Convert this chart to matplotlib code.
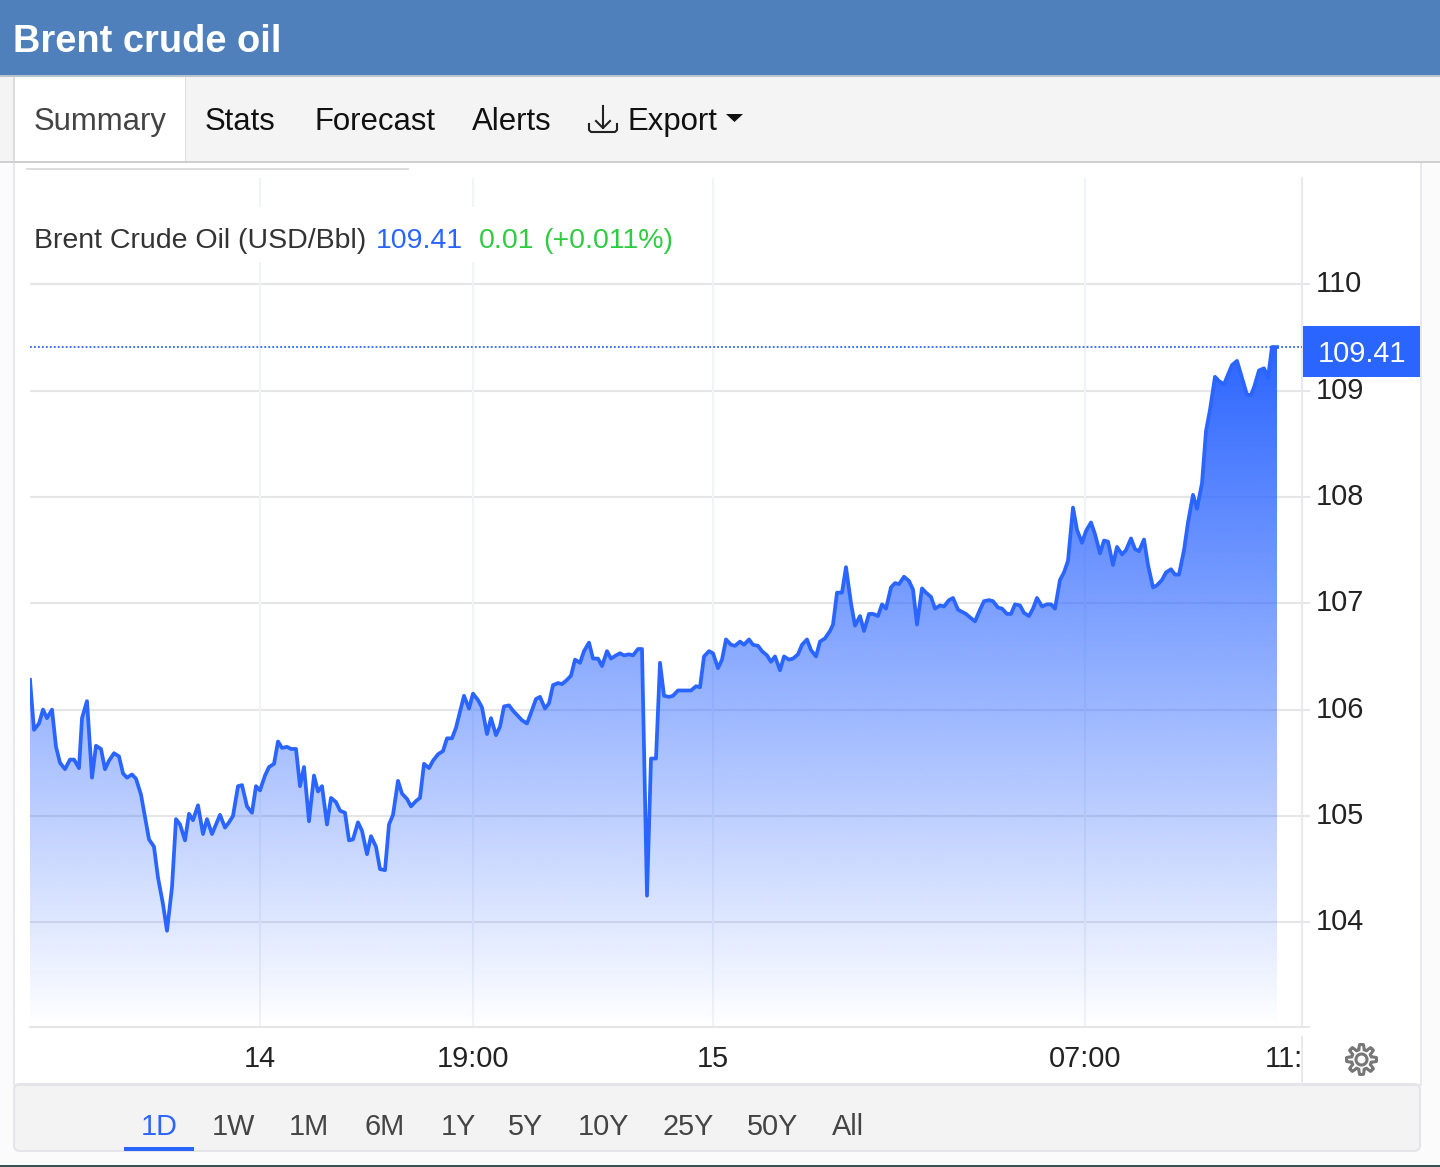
import numpy as np
import matplotlib
matplotlib.use('Agg')
import matplotlib.pyplot as plt
from matplotlib.patches import Rectangle, Polygon, Circle, FancyBboxPatch
from matplotlib.transforms import Bbox, ScaledTranslation

plt.rcParams['font.family'] = ['Liberation Sans', 'DejaVu Sans']

# position along the ordinal time axis (not evenly spaced, sessions are squeezed)
slots = [0, 4, 9, 13, 17, 22, 26, 30, 35, 40, 44, 49, 52, 57, 62, 66, 71, 75, 79, 84, 89, 93, 97,
         102, 106, 111, 115, 119, 124, 128, 133, 137, 142, 146, 150, 155, 159, 163, 168, 173, 177,
         182, 186, 190, 195, 199, 203, 208, 212, 217, 222, 226, 230, 235, 239, 244, 248, 252, 257,
         261, 266, 270, 274, 279, 284, 288, 292, 297, 301, 306, 310, 315, 319, 323, 328, 332, 337,
         341, 346, 350, 355, 359, 363, 368, 372, 377, 381, 386, 390, 394, 399, 403,
         408, 413, 417, 422, 426, 430, 434, 439, 443, 448, 452, 457, 461, 466, 470, 474, 479, 483,
         488, 492, 497, 501, 506, 510, 515, 519, 523, 528, 532, 537, 541, 545, 550, 554, 559, 563,
         568, 572, 577, 581, 586, 590, 594, 599, 603, 608, 612, 617, 621, 626, 630, 634, 639, 643,
         648, 652, 657, 661, 666, 670, 674, 679, 683, 688, 692, 696, 701, 705, 710, 714, 719, 723,
         728, 732, 737, 741, 745, 750, 754, 759, 763, 768, 772, 777, 781, 786, 790, 795,
         800, 803, 807, 812, 816, 821, 825, 830, 834, 839, 843, 848, 852, 856, 861, 865, 869, 874,
         879, 883, 887, 892, 896, 901, 905, 910, 914, 919, 923, 928, 932, 936, 941, 945, 950, 954,
         959, 963, 968, 972, 977, 981, 985, 990, 994, 999, 1003, 1007, 1012, 1017, 1021, 1025, 1030,
         1034, 1038, 1043, 1047, 1052, 1056, 1061, 1065, 1070, 1074, 1078, 1083, 1087, 1092, 1096,
         1101, 1105, 1109, 1114, 1118, 1123, 1127, 1132, 1136, 1141, 1145, 1149, 1154, 1158, 1163,
         1167, 1172, 1176, 1180, 1185, 1189, 1194, 1198, 1202, 1207, 1212, 1217, 1221, 1224, 1229,
         1234, 1238, 1242, 1247]

prices = [106.28, 105.81, 105.87, 106.00, 105.92, 106.00, 105.65, 105.50, 105.44, 105.53, 105.53,
          105.45, 105.92, 106.08, 105.36, 105.66, 105.63, 105.44, 105.52, 105.59, 105.56, 105.40,
          105.36, 105.39, 105.35, 105.20, 104.99, 104.78, 104.71, 104.42, 104.17, 103.92, 104.33,
          104.97, 104.92, 104.77, 105.02, 104.96, 105.10, 104.83, 104.97, 104.83, 104.92, 105.01,
          104.89, 104.94, 105.00, 105.28, 105.29, 105.09, 105.03, 105.28, 105.24, 105.38, 105.46,
          105.49, 105.70, 105.64, 105.65, 105.63, 105.63, 105.28, 105.46, 104.95, 105.38, 105.23,
          105.28, 104.92, 105.17, 105.13, 105.05, 105.03, 104.77, 104.78, 104.94, 104.86, 104.64,
          104.81, 104.71, 104.50, 104.49, 104.92, 105.01, 105.33, 105.21, 105.16, 105.09, 105.14,
          105.17, 105.49, 105.45, 105.52,
          105.58, 105.61, 105.73, 105.73, 105.83, 105.98, 106.13, 106.01, 106.15, 106.09, 106.02,
          105.77, 105.92, 105.76, 105.84, 106.03, 106.04, 105.99, 105.94, 105.90, 105.87, 105.97,
          106.10, 106.12, 106.01, 106.06, 106.23, 106.25, 106.24, 106.28, 106.32, 106.47, 106.44,
          106.55, 106.63, 106.48, 106.48, 106.41, 106.55, 106.48, 106.51, 106.53, 106.51, 106.52,
          106.51, 106.57, 106.57, 104.25, 105.54, 105.54, 106.44, 106.13, 106.12, 106.13, 106.18,
          106.18, 106.18, 106.18, 106.22, 106.21, 106.50, 106.55, 106.53, 106.39, 106.47, 106.66,
          106.61, 106.60, 106.64, 106.61, 106.66, 106.61, 106.60, 106.55, 106.51, 106.45, 106.50,
          106.37, 106.50, 106.47, 106.48, 106.52, 106.61, 106.66, 106.56, 106.50, 106.64, 106.67,
          106.74, 106.80, 107.10, 107.10, 107.34, 107.00, 106.79, 106.88, 106.74, 106.90, 106.90,
          106.88, 106.99, 106.95, 107.15, 107.19, 107.18, 107.25, 107.21, 107.13, 106.80, 107.14,
          107.10, 107.06, 106.95, 106.98, 106.97, 107.03, 107.05, 106.94, 106.92, 106.90, 106.86,
          106.83, 106.94, 107.02, 107.03, 107.02, 106.96, 106.95, 106.90, 106.90, 106.99, 106.98,
          106.91, 106.88, 106.95, 107.05, 106.97, 106.99, 106.99, 106.95, 107.22, 107.29, 107.40,
          107.90, 107.69, 107.57, 107.68, 107.76, 107.65, 107.47, 107.59, 107.58, 107.36, 107.53,
          107.46, 107.50, 107.61, 107.51, 107.49, 107.60, 107.36, 107.15, 107.17, 107.22, 107.29,
          107.32, 107.27, 107.27, 107.50, 107.76, 108.02, 107.89, 108.13, 108.62, 108.82, 109.13,
          109.09, 109.06, 109.15, 109.24, 109.28, 109.12, 108.96, 108.96, 109.03, 109.19, 109.21,
          109.12, 109.41, 109.41]

y_ticks = [104, 105, 106, 107, 108, 109, 110]
x_tick_pos = [230, 443, 683, 1055, 1270]
x_tick_labels = ['14', '19:00', '15', '07:00', '11:00']
tabs = ['Stats', 'Forecast', 'Alerts']
tab_x = [205, 314.5, 471.5]
ranges = ['1D', '1W', '1M', '6M', '1Y', '5Y', '10Y', '25Y', '50Y', 'All']
range_x = [141, 212, 289, 364, 441, 508, 578, 662, 747, 832]
last_price = 109.41

BLUE = '#2b65ff'
GRID = '#e6e6e6'
VGRID = '#f0f3f8'
W, H = 1440, 1167

fig = plt.figure(figsize=(14.4, 11.67), dpi=100, facecolor='#fbfbfb')

# page chrome behind the chart, in pixel coordinates
bg = fig.add_axes([0, 0, 1, 1], zorder=0)
bg.set_xlim(0, W)
bg.set_ylim(H, 0)
bg.axis('off')


def box(axes, x0, y0, x1, y1, color, **kw):
    axes.add_patch(Rectangle((x0, y0), x1 - x0, y1 - y0, facecolor=color, edgecolor='none', **kw))


box(bg, 13, 162, 1421, 1085, '#ffffff')
# bottom bar with rounded corners, square top is covered by the divider
bg.add_patch(FancyBboxPatch((14, 1084), 1406, 67, boxstyle='round,pad=0,rounding_size=6',
                            facecolor='#f3f3f3', edgecolor='#e4e4ea', linewidth=1.5))
box(bg, 13, 1084, 1421, 1086, '#e4e4ea')
box(bg, 12.5, 162, 14.5, 1086, '#e8e8ee')
box(bg, 1419.5, 162, 1421.5, 1086, '#e8e8ee')
box(bg, 0, 1165, W, H, '#35544f')
box(bg, 0, 76, W, 161, '#f4f4f4')
box(bg, 14, 76, 185, 161, '#ffffff')
box(bg, 13, 76, 14.5, 161, '#dcdcdc')
box(bg, 184.5, 76, 186, 161, '#dcdcdc')
box(bg, 0, 161, W, 163, '#cfcfcf')
box(bg, 0, 0, W, 75, '#4f80bc')
box(bg, 0, 75, W, 77, '#b9c3cf')
box(bg, 26, 168, 409, 170, '#dddddd')
box(bg, 1301, 1036, 1303, 1085, '#e8e8ee')

bg.text(13, 52, 'Brent crude oil', color='white', fontsize=27.4, fontweight='bold', va='baseline')
bg.text(34, 130, 'Summary', color='#444444', fontsize=22.4, va='baseline')
for name, x in zip(tabs, tab_x):
    bg.text(x, 130, name, color='#111111', fontsize=22.4, va='baseline')
bg.text(628, 130, 'Export', color='#111111', fontsize=22.4, va='baseline')
bg.add_patch(Polygon([(726, 114), (743, 114), (734.5, 122)], facecolor='#111111'))
# download icon
bg.plot([603, 603], [106, 128], color='#222222', lw=1.5)
bg.plot([596, 603, 610], [121, 128, 121], color='#222222', lw=1.5)
bg.plot([589, 589, 591, 615, 617, 617], [124, 130, 132, 132, 130, 124], color='#222222', lw=1.5)

for name, x in zip(ranges, range_x):
    col = BLUE if name == '1D' else '#444444'
    bg.text(x, 1135, name, color=col, fontsize=20.8, va='baseline')
box(bg, 124, 1147, 194, 1151, BLUE)

# settings gear
ang = np.linspace(0, 2 * np.pi, 97)
rad = 12.5 + 2.5 * np.clip(3 * np.cos(8 * ang), -1, 1)
bg.plot(1361.5 + rad * np.cos(ang), 1059.5 + rad * np.sin(ang), color='#777777', lw=2.2)
bg.add_patch(Circle((1361.5, 1059.5), 5.5, facecolor='none', edgecolor='#777777', lw=2.2))

# chart itself: 30..1302 px wide, 178..1027 px tall
ax = fig.add_axes([30 / W, 1 - 1027 / H, 1272 / W, 849 / H], zorder=1)
ax.patch.set_alpha(0)
ymin, ymax = 103.015, 111.0
ax.set_xlim(0, 1272)
ax.set_ylim(ymin, ymax)

ax.set_yticks(y_ticks)
ax.set_xticks(x_tick_pos)
ax.set_xticklabels(x_tick_labels)
ax.yaxis.tick_right()
ax.tick_params(axis='y', length=5.8, width=1.5, color=GRID, pad=4, labelsize=20.8, labelcolor='#222222')
ax.tick_params(axis='x', length=0, pad=13, labelsize=20.8, labelcolor='#222222')

# y labels sit a little above their gridlines
lift = ScaledTranslation(0, 0.03, fig.dpi_scale_trans)
for lab in ax.get_yticklabels():
    lab.set_transform(lab.get_transform() + lift)

ax.yaxis.grid(True, color=GRID, lw=1.5, zorder=1)
for x in x_tick_pos[:-1]:
    ax.axvline(x, color=VGRID, lw=1.5, zorder=1)
ax.set_axisbelow(True)

for side in ['top', 'left']:
    ax.spines[side].set_visible(False)
ax.spines['right'].set_color('#e8e8ee')
ax.spines['right'].set_linewidth(1.5)
ax.spines['bottom'].set_color(GRID)
ax.spines['bottom'].set_linewidth(1.5)
box(bg, 1302, 1026, 1310, 1028, GRID)

# last tick label is cut off by the right edge of the plot
clip = Bbox([[0, 0], [1302, H]])
ax.get_xticklabels()[-1].set_clip_box(clip)
ax.get_xticklabels()[-1].set_clip_on(True)

# gradient area under the line
area = ax.fill_between(slots, prices, ymin, facecolor='none', edgecolor='none')
grad = np.zeros((256, 1, 4))
grad[..., 0] = 0x2b / 255
grad[..., 1] = 0x65 / 255
grad[..., 2] = 1.0
grad[..., 3] = np.linspace(1.0, 0.0, 256).reshape(-1, 1)
im = ax.imshow(grad, extent=[0, 1272, ymin, last_price], aspect='auto', origin='upper', zorder=2)
im.set_clip_path(area.get_paths()[0], transform=ax.transData)
ax.set_xlim(0, 1272)
ax.set_ylim(ymin, ymax)

ax.plot(slots, prices, color=BLUE, lw=2.7, zorder=3, solid_joinstyle='round')
ax.axhline(last_price, color=BLUE, lw=1.3, ls=(0, (1, 1.2)), zorder=3)

# layer on top: legend line and last price tag
fg = fig.add_axes([0, 0, 1, 1], zorder=2)
fg.set_xlim(0, W)
fg.set_ylim(H, 0)
fg.axis('off')
box(fg, 30, 207, 690, 262, '#ffffff')
fg.text(34, 248, 'Brent Crude Oil (USD/Bbl)', color='#333333', fontsize=20.5, va='baseline')
fg.text(376, 248, '109.41', color=BLUE, fontsize=20.5, va='baseline')
fg.text(479, 248, '0.01', color='#2ecc40', fontsize=20.5, va='baseline')
fg.text(543, 248, '(+0.011%)', color='#2ecc40', fontsize=20.5, va='baseline')
box(fg, 1303, 326, 1420, 377, BLUE)
fg.text(1361.5, 353.5, '109.41', color='white', fontsize=20.8, ha='center', va='center')

fig.savefig('out.png', dpi=100, facecolor=fig.get_facecolor())
plt.close(fig)
